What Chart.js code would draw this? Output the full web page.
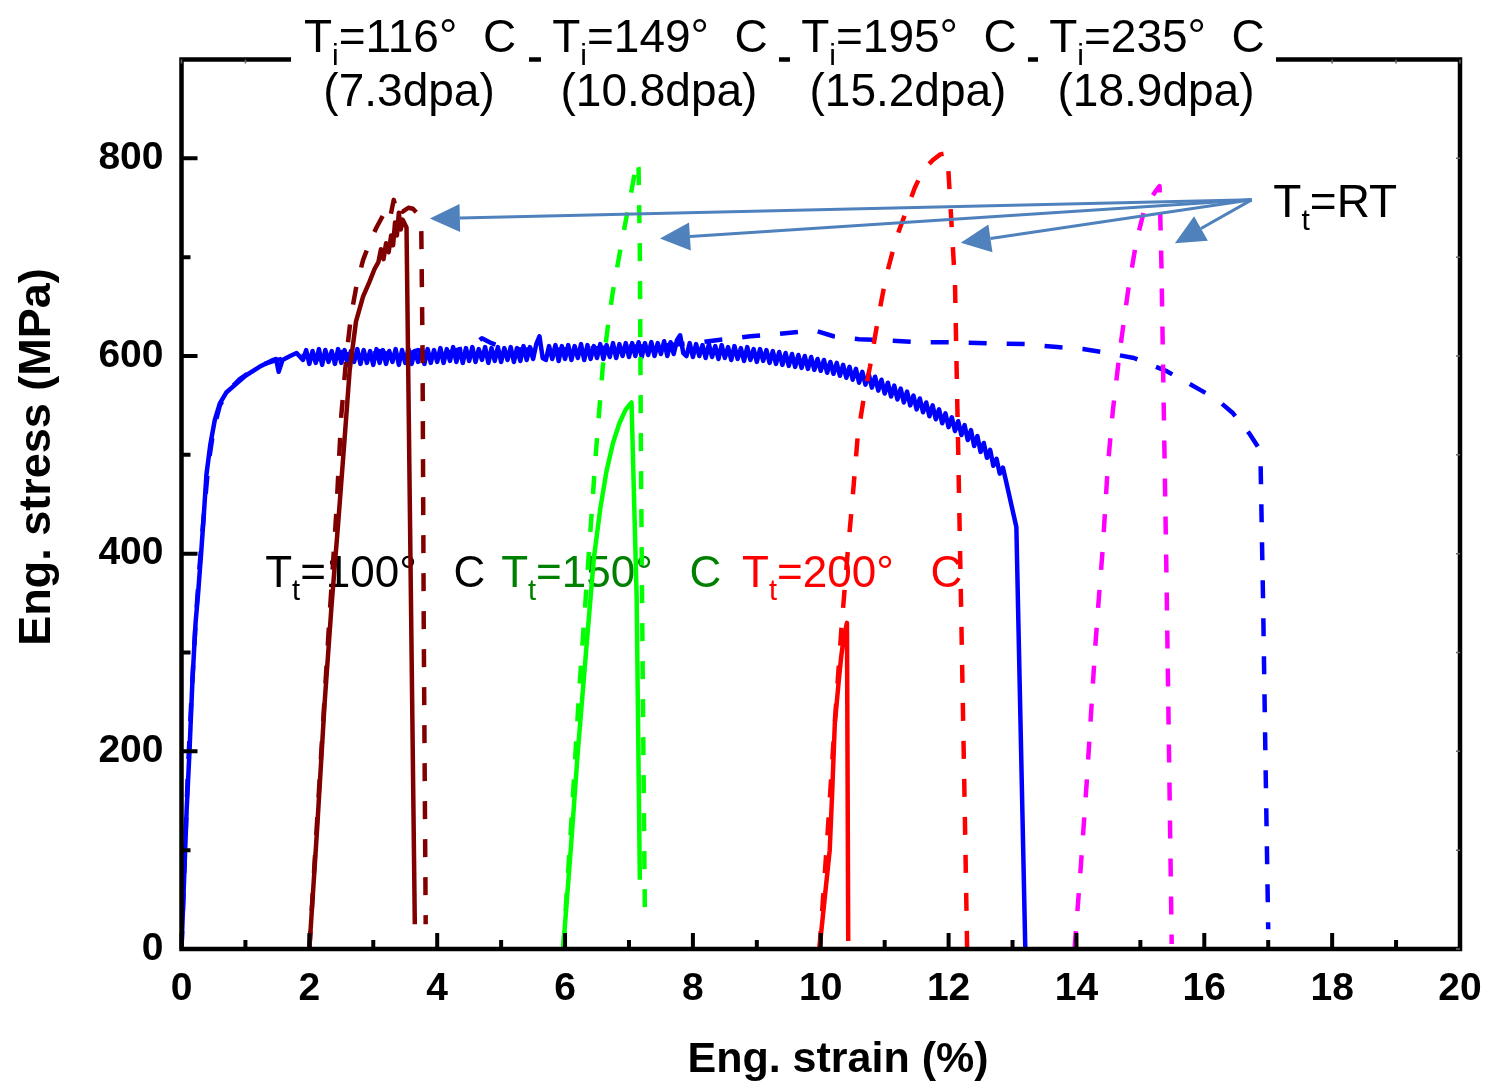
<!DOCTYPE html>
<html>
<head>
<meta charset="utf-8">
<script src="https://cdn.jsdelivr.net/npm/chart.js@4.4.1/dist/chart.umd.min.js"></script>
<style>
  html, body { margin: 0; padding: 0; background: #fff; }
  #wrap { width: 1493px; height: 1087px; }
</style>
</head>
<body>
<div id="wrap"><canvas id="chart" width="1493" height="1087"></canvas></div>
<script>
// Axis ticks
const xTicks = [0, 2, 4, 6, 8, 10, 12, 14, 16, 18, 20];
const xMinorTicks = [1, 3, 5, 7, 9, 11, 13, 15, 17, 19];
const yTicks = [0, 200, 400, 600, 800];
const yMinorTicks = [100, 300, 500, 700];

// Irradiation labels along the top
const irrTemps = ['116', '149', '195', '235'];
const irrDoses = ['7.3', '10.8', '15.2', '18.9'];

// Curves: [eng. strain (%), eng. stress (MPa)]
const blueSolid = [
  [0, 0], [0.04, 70], [0.08, 140], [0.125, 200], [0.17, 270], [0.22, 330], [0.26, 360], [0.31, 403],
  [0.35, 440], [0.39, 480], [0.45, 510], [0.52, 535], [0.6, 552], [0.7, 563], [0.86, 572], [1.0, 580],
  [1.22, 589], [1.4, 595], [1.48, 597], [1.52, 584], [1.58, 596], [1.7, 600], [1.8, 603],
  [1.9, 596], [1.95, 606], [2.0, 592], [2.05, 605], [2.1, 593], [2.15, 607], [2.2, 591], [2.25, 606],
  [2.3, 594], [2.35, 605], [2.4, 592], [2.45, 607], [2.5, 593], [2.55, 606], [2.6, 591], [2.65, 605],
  [2.7, 594], [2.75, 607], [2.8, 592], [2.85, 606], [2.9, 593], [2.95, 605],
  [3.0, 591], [3.05, 607], [3.1, 593], [3.15, 606], [3.2, 592], [3.25, 605], [3.3, 594], [3.35, 607],
  [3.4, 591], [3.45, 606], [3.5, 593], [3.55, 607], [3.6, 592], [3.65, 605], [3.7, 594], [3.75, 606],
  [3.8, 592], [3.85, 607], [3.9, 593], [3.95, 606],
  [4.0, 594], [4.05, 608], [4.1, 593], [4.15, 607], [4.2, 595], [4.25, 609], [4.3, 594], [4.35, 607],
  [4.4, 593], [4.45, 608], [4.5, 595], [4.55, 609], [4.6, 594], [4.65, 607], [4.7, 596], [4.75, 609],
  [4.8, 593], [4.85, 608], [4.9, 595], [4.95, 609],
  [5.0, 594], [5.05, 608], [5.1, 596], [5.15, 609], [5.2, 594], [5.25, 608], [5.3, 595], [5.35, 610],
  [5.4, 596], [5.45, 609], [5.5, 597], [5.55, 612], [5.6, 620], [5.65, 598], [5.7, 596], [5.75, 610],
  [5.8, 597], [5.85, 611], [5.9, 595], [5.95, 610],
  [6.0, 597], [6.05, 611], [6.1, 596], [6.15, 610], [6.2, 598], [6.25, 612], [6.3, 596], [6.35, 611],
  [6.4, 597], [6.45, 610], [6.5, 598], [6.55, 612], [6.6, 597], [6.65, 611], [6.7, 599], [6.75, 613],
  [6.8, 598], [6.85, 612], [6.9, 600], [6.95, 613],
  [7.0, 599], [7.05, 613], [7.1, 600], [7.15, 614], [7.2, 599], [7.25, 613], [7.3, 601], [7.35, 614],
  [7.4, 600], [7.45, 613], [7.5, 602], [7.55, 615], [7.6, 600], [7.65, 614], [7.7, 602], [7.75, 616],
  [7.8, 621], [7.85, 603], [7.9, 600], [7.95, 613],
  [8.0, 599], [8.05, 612], [8.1, 600], [8.15, 611], [8.2, 598], [8.25, 612], [8.3, 599], [8.35, 610],
  [8.4, 597], [8.45, 611], [8.5, 598], [8.55, 609], [8.6, 596], [8.65, 610], [8.7, 597], [8.75, 608],
  [8.8, 595], [8.85, 609], [8.9, 596], [8.95, 607],
  [9.0, 594], [9.05, 607], [9.1, 595], [9.15, 606], [9.2, 593], [9.25, 605], [9.3, 592], [9.35, 604],
  [9.4, 591], [9.45, 603], [9.5, 590], [9.55, 602], [9.6, 589], [9.65, 601], [9.7, 588], [9.75, 600],
  [9.8, 587], [9.85, 599], [9.9, 586], [9.95, 597],
  [10.0, 585], [10.05, 596], [10.1, 583], [10.15, 594], [10.2, 582], [10.25, 593], [10.3, 580], [10.35, 591],
  [10.4, 578], [10.45, 589], [10.5, 576], [10.55, 587], [10.6, 573], [10.65, 584], [10.7, 571], [10.75, 582],
  [10.8, 568], [10.85, 579], [10.9, 565], [10.95, 576],
  [11.0, 562], [11.05, 573], [11.1, 559], [11.15, 570], [11.2, 556], [11.25, 567], [11.3, 553], [11.35, 564],
  [11.4, 550], [11.45, 560], [11.5, 546], [11.55, 557], [11.6, 543], [11.65, 553], [11.7, 539], [11.75, 550],
  [11.8, 536], [11.85, 546], [11.9, 532], [11.95, 542],
  [12.0, 528], [12.05, 538], [12.1, 524], [12.15, 534], [12.2, 520], [12.25, 530], [12.3, 515], [12.35, 525],
  [12.4, 509], [12.45, 519], [12.5, 503], [12.55, 512], [12.6, 497], [12.65, 505], [12.7, 489], [12.75, 496],
  [12.8, 481], [12.85, 487], [12.9, 473], [13.06, 427], [13.2, 0]
];
const blueDashed = [
  [0, 0], [0.05, 90], [0.1, 180], [0.16, 260], [0.22, 330], [0.28, 385], [0.35, 440], [0.42, 490],
  [0.5, 525], [0.6, 550], [0.75, 566], [0.9, 576], [1.1, 585], [1.3, 592], [1.5, 596], [1.7, 599],
  [1.9, 600], [2.2, 596], [2.5, 604], [2.8, 597], [3.1, 605], [3.4, 598], [3.7, 606], [4.0, 600],
  [4.3, 606], [4.55, 610], [4.7, 618], [4.85, 613], [5.1, 607], [5.6, 606], [6.2, 607], [6.8, 609],
  [7.4, 610], [8.0, 613], [8.5, 617], [8.9, 620], [9.3, 622], [9.6, 624], [9.9, 626], [10.2, 620],
  [10.6, 617], [11.0, 616], [11.5, 614], [12.0, 614], [12.6, 613], [13.2, 612], [13.7, 609], [14.1, 607],
  [14.4, 604], [14.9, 598], [15.4, 585], [15.9, 567], [16.2, 556], [16.45, 542], [16.7, 522], [16.84, 508],
  [16.88, 494], [16.92, 350], [16.96, 180], [17.0, 20]
];
const brownSolid = [
  [2.0, 0], [2.12, 120], [2.24, 250], [2.35, 350], [2.45, 430], [2.55, 515], [2.63, 585], [2.73, 635],
  [2.84, 660], [2.94, 675], [3.02, 688], [3.08, 695], [3.12, 708], [3.16, 698], [3.2, 714], [3.24, 705],
  [3.28, 722], [3.31, 712], [3.34, 735], [3.37, 722], [3.4, 745], [3.43, 728], [3.46, 738], [3.52, 730],
  [3.65, 25]
];
const brownDashed = [
  [2.0, 0], [2.15, 160], [2.3, 320], [2.42, 440], [2.5, 540], [2.58, 600], [2.65, 640], [2.74, 672],
  [2.84, 697], [2.95, 716], [3.05, 730], [3.15, 742], [3.22, 750], [3.27, 742], [3.32, 758], [3.36, 748],
  [3.4, 754], [3.46, 746], [3.55, 750], [3.62, 749], [3.68, 745], [3.75, 734], [3.77, 610], [3.79, 320],
  [3.82, 25]
];
const greenSolid = [
  [5.97, 0], [6.1, 110], [6.2, 200], [6.33, 302], [6.45, 395], [6.55, 445], [6.65, 484], [6.75, 512],
  [6.85, 532], [6.95, 546], [7.04, 553], [7.12, 356], [7.17, 70]
];
const greenDashed = [
  [5.97, 0], [6.1, 130], [6.22, 260], [6.35, 380], [6.48, 500], [6.59, 589], [6.68, 635], [6.75, 666],
  [6.83, 695], [6.9, 720], [7.01, 757], [7.07, 778], [7.12, 797], [7.15, 790], [7.17, 707], [7.19, 471],
  [7.22, 240], [7.25, 25]
];
const redSolid = [
  [9.98, 0], [10.06, 50], [10.14, 100], [10.18, 160], [10.22, 228], [10.28, 270], [10.32, 296],
  [10.36, 315], [10.41, 330], [10.42, 170], [10.43, 8]
];
const redDashed = [
  [9.98, 0], [10.1, 110], [10.22, 230], [10.33, 330], [10.42, 400], [10.49, 450], [10.58, 520],
  [10.68, 560], [10.77, 589], [10.85, 620], [10.92, 646], [11.02, 680], [11.13, 707], [11.23, 728],
  [11.34, 747], [11.47, 770], [11.6, 788], [11.75, 798], [11.87, 804], [11.95, 805], [11.99, 795],
  [12.04, 740], [12.1, 673], [12.15, 505], [12.2, 330], [12.25, 150], [12.29, 0]
];
const magentaDashed = [
  [13.97, 0], [14.07, 85], [14.16, 168], [14.23, 240], [14.29, 302], [14.35, 355], [14.41, 404],
  [14.49, 488], [14.57, 545], [14.68, 606], [14.81, 667], [14.94, 717], [15.05, 745], [15.15, 758],
  [15.23, 766], [15.3, 772], [15.33, 690], [15.37, 530], [15.41, 370], [15.45, 190], [15.49, 5]
];

// Test temperature labels (anchored in data units) and the RT arrows
const testLabels = [
  { value: '100', color: '#000000', strain: 1.31, stress: 366 },
  { value: '150', color: '#008000', strain: 5.0, stress: 366 },
  { value: '200', color: '#ff0000', strain: 8.77, stress: 366 }
];
const rtLabel = { strain: 17.08, stress: 741 };
const arrowFrom = [16.74, 758];
const arrowTips = [[3.885, 739], [7.485, 719], [12.19, 714.5], [15.54, 714]];

const FONT = "'Liberation Sans', Arial, Helvetica, sans-serif";

function toXY(points) {
    return points.map(p => ({ x: p[0], y: p[1] }));
}

function curve(points, color, dashed) {
    return {
        data: toXY(points),
        borderColor: color,
        borderWidth: 4.5,
        borderDash: dashed ? [18, 20] : [],
        borderJoinStyle: 'round',
        pointRadius: 0,
        tension: 0,
        fill: false
    };
}

// draws "T" + subscript + rest, starting at x (or centred on x)
function drawSubText(ctx, x, y, sub, rest, size, color, centred) {
    const subSize = Math.round(size * 0.66);
    ctx.font = `${size}px ${FONT}`;
    const wT = ctx.measureText('T').width;
    const wRest = ctx.measureText(rest).width;
    ctx.font = `${subSize}px ${FONT}`;
    const wSub = ctx.measureText(sub).width;
    let x0 = centred ? x - (wT + wSub + wRest) / 2 : x;
    ctx.fillStyle = color;
    ctx.textAlign = 'left';
    ctx.textBaseline = 'alphabetic';
    ctx.font = `${size}px ${FONT}`;
    ctx.fillText('T', x0, y);
    ctx.font = `${subSize}px ${FONT}`;
    ctx.fillText(sub, x0 + wT, y + size * 0.29);
    ctx.font = `${size}px ${FONT}`;
    ctx.fillText(rest, x0 + wT + wSub, y);
}

const decorations = {
    id: 'decorations',
    beforeDatasetsDraw(chart) {
        const { ctx, scales: { x, y } } = chart;
        ctx.save();
        testLabels.forEach(l => {
            drawSubText(ctx, x.getPixelForValue(l.strain), y.getPixelForValue(l.stress),
                't', '=' + l.value + '\u00b0   C', 44, l.color, false);
        });
        ctx.restore();
    },
    afterDatasetsDraw(chart) {
        const { ctx, chartArea: a, scales: { x, y } } = chart;
        ctx.save();
        // frame
        ctx.strokeStyle = '#000';
        ctx.lineWidth = 4.5;
        ctx.strokeRect(a.left, a.top, a.right - a.left, a.bottom - a.top);
        // inward ticks
        ctx.lineWidth = 4;
        ctx.beginPath();
        xTicks.forEach(v => { const px = x.getPixelForValue(v); ctx.moveTo(px, a.bottom); ctx.lineTo(px, a.bottom - 16); });
        xMinorTicks.forEach(v => { const px = x.getPixelForValue(v); ctx.moveTo(px, a.bottom); ctx.lineTo(px, a.bottom - 9); });
        yTicks.forEach(v => { const py = y.getPixelForValue(v); ctx.moveTo(a.left, py); ctx.lineTo(a.left + 16, py); });
        yMinorTicks.forEach(v => { const py = y.getPixelForValue(v); ctx.moveTo(a.left, py); ctx.lineTo(a.left + 9, py); });
        ctx.stroke();
        ctx.lineWidth = 1.5;
        ctx.strokeStyle = '#666';
        ctx.beginPath();
        xTicks.concat(xMinorTicks).forEach(v => { const px = x.getPixelForValue(v); ctx.moveTo(px, a.top); ctx.lineTo(px, a.top + 4); });
        yTicks.concat(yMinorTicks).forEach(v => { const py = y.getPixelForValue(v); ctx.moveTo(a.right, py); ctx.lineTo(a.right - 4, py); });
        ctx.stroke();

        // arrows pointing at the RT curves
        const ox = x.getPixelForValue(arrowFrom[0]);
        const oy = y.getPixelForValue(arrowFrom[1]);
        ctx.strokeStyle = '#4f81bd';
        ctx.fillStyle = '#4f81bd';
        ctx.lineWidth = 3;
        arrowTips.forEach(t => {
            const tx = x.getPixelForValue(t[0]);
            const ty = y.getPixelForValue(t[1]);
            const ang = Math.atan2(ty - oy, tx - ox);
            const len = 30, half = 14;
            const bx = tx - len * Math.cos(ang);
            const by = ty - len * Math.sin(ang);
            ctx.beginPath();
            ctx.moveTo(ox, oy);
            ctx.lineTo(bx, by);
            ctx.stroke();
            ctx.beginPath();
            ctx.moveTo(tx, ty);
            ctx.lineTo(bx + half * Math.sin(ang), by - half * Math.cos(ang));
            ctx.lineTo(bx - half * Math.sin(ang), by + half * Math.cos(ang));
            ctx.closePath();
            ctx.fill();
        });
        drawSubText(ctx, x.getPixelForValue(rtLabel.strain), y.getPixelForValue(rtLabel.stress),
            't', '=RT', 46, '#000', false);
        ctx.restore();
    },
    afterDraw(chart) {
        const { ctx, scales: { x } } = chart;
        ctx.save();
        // irradiation conditions, on white boxes that cut the top axis
        const centres = [3.575, 7.485, 11.38, 15.26];
        irrTemps.forEach((t, i) => {
            const cx = x.getPixelForValue(centres[i]);
            ctx.fillStyle = '#fff';
            ctx.fillRect(cx - 119, 0, 238, 118);
            drawSubText(ctx, cx, 52, 'i', '=' + t + '\u00b0  C', 46, '#000', true);
            ctx.font = `46px ${FONT}`;
            ctx.textAlign = 'center';
            ctx.fillStyle = '#000';
            ctx.fillText('(' + irrDoses[i] + 'dpa)', cx - 1, 106);
        });
        // axis titles
        ctx.fillStyle = '#000';
        ctx.font = `bold 43px ${FONT}`;
        ctx.textAlign = 'center';
        ctx.textBaseline = 'middle';
        ctx.fillText('Eng. strain (%)', 838, 1060);
        ctx.font = `bold 45px ${FONT}`;
        ctx.translate(38, 457);
        ctx.rotate(-Math.PI / 2);
        ctx.fillText('Eng. stress (MPa)', 0, 0);
        ctx.restore();
    }
};

const ctx = document.getElementById('chart');
new Chart(ctx, {
    type: 'line',
    data: {
        datasets: [
            curve(brownSolid, '#800000', false),
            curve(greenSolid, '#00ff00', false),
            curve(redSolid, '#ff0000', false),
            curve(brownDashed, '#800000', true),
            curve(greenDashed, '#00ff00', true),
            curve(redDashed, '#ff0000', true),
            curve(magentaDashed, '#ff00ff', true),
            curve(blueSolid, '#0000ff', false),
            curve(blueDashed, '#0000ff', true)
        ]
    },
    options: {
        responsive: false,
        animation: false,
        devicePixelRatio: 1,
        events: [],
        layout: { padding: { left: 0, top: 59.5, right: 33, bottom: 0 } },
        plugins: {
            legend: { display: false },
            tooltip: { enabled: false }
        },
        scales: {
            x: {
                type: 'linear',
                min: 0,
                max: 20,
                afterBuildTicks: scale => { scale.ticks = xTicks.map(v => ({ value: v })); },
                afterFit: scale => {
                    scale.height = 138;
                    scale.paddingLeft = 0;
                    scale.paddingRight = 0;
                },
                grid: { display: false, drawTicks: false },
                border: { display: false },
                ticks: {
                    color: '#000',
                    padding: 17,
                    maxRotation: 0,
                    font: { family: FONT, size: 39, weight: 'bold' }
                }
            },
            y: {
                type: 'linear',
                min: 0,
                max: 900,
                afterBuildTicks: scale => { scale.ticks = yTicks.map(v => ({ value: v })); },
                afterFit: scale => { scale.width = 181.5; },
                grid: { display: false, drawTicks: false },
                border: { display: false },
                ticks: {
                    color: '#000',
                    padding: 18,
                    font: { family: FONT, size: 39, weight: 'bold' }
                }
            }
        }
    },
    plugins: [decorations]
});
</script>
</body>
</html>
